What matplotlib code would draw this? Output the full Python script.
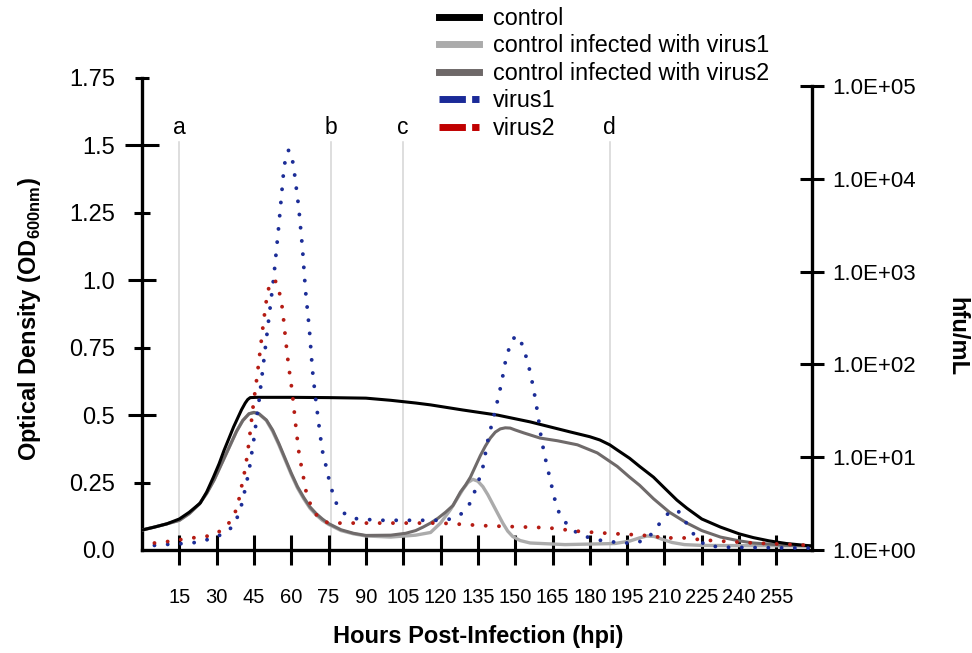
import numpy as np
import matplotlib
matplotlib.use("Agg")
import matplotlib.pyplot as plt
from matplotlib.lines import Line2D
from matplotlib.ticker import NullLocator
from matplotlib import font_manager

plt.rcParams['font.family'] = ['Liberation Sans', 'DejaVu Sans']
plt.rcParams['mathtext.fontset'] = 'custom'
plt.rcParams['mathtext.rm'] = 'Liberation Sans'
plt.rcParams['mathtext.bf'] = 'Liberation Sans:bold'

# narrow face for the crowded x tick labels, if it is installed
installed = {f.name for f in font_manager.fontManager.ttflist}
narrow = 'Liberation Sans Narrow' in installed

# Optical density series (left axis)
ctrl_h = [0, 5, 10, 15, 19, 23.4, 26, 28.7, 31, 33, 35, 36.8, 38.5, 40, 41.5, 42.5, 43.5, 46,
          60, 75, 90, 100, 110, 116, 129, 143, 156, 172, 180, 184, 188, 191, 196, 200, 205.6,
          210, 215, 219, 225, 232.5, 240, 245.7, 252, 259, 269]
ctrl_od = [0.074, 0.085, 0.097, 0.115, 0.14, 0.174, 0.215, 0.27, 0.32, 0.37, 0.415, 0.456,
           0.49, 0.52, 0.545, 0.558, 0.565, 0.566, 0.566, 0.565, 0.563, 0.555, 0.545, 0.538,
           0.519, 0.50, 0.475, 0.438, 0.42, 0.408, 0.39, 0.371, 0.34, 0.31, 0.27, 0.23, 0.185,
           0.155, 0.115, 0.085, 0.06, 0.046, 0.034, 0.024, 0.015]

v1inf_h = [0, 5, 10, 15, 19, 23, 26, 29, 32, 35, 38, 40.5, 43, 45, 47, 50, 52.5, 55, 57.5, 60,
           62.5, 65, 67.5, 70, 72.5, 75, 80, 85, 90, 100, 110, 116, 120, 124, 127, 129, 131,
           133, 135, 137, 139, 141, 143, 145, 147, 149, 152, 156, 170, 190, 196, 200, 203,
           206, 209, 213, 218, 225, 245, 269]
v1inf_od = [0.074, 0.085, 0.097, 0.11, 0.135, 0.17, 0.21, 0.26, 0.32, 0.38, 0.44, 0.48,
            0.505, 0.51, 0.505, 0.48, 0.44, 0.39, 0.335, 0.28, 0.23, 0.19, 0.155, 0.13, 0.11,
            0.095, 0.072, 0.06, 0.052, 0.048, 0.055, 0.065, 0.10, 0.15, 0.195, 0.225, 0.25,
            0.262, 0.255, 0.235, 0.205, 0.17, 0.135, 0.10, 0.07, 0.05, 0.035, 0.026, 0.02,
            0.024, 0.033, 0.045, 0.052, 0.05, 0.04, 0.028, 0.02, 0.017, 0.016, 0.015]

v2inf_h = [0, 5, 10, 15, 19, 23, 26, 29, 32, 35, 38, 40.5, 43, 45, 47, 50, 52.5, 55, 57.5, 60,
           62.5, 65, 67.5, 70, 72.5, 75, 80, 85, 90, 100, 106, 110, 113, 116, 119, 122, 125,
           128, 130, 132, 134, 136, 138, 140, 142, 144, 146, 148, 150, 153.5, 160, 167, 175,
           183, 187, 191, 196, 200, 205.6, 212, 219, 225, 232.5, 240, 245.7, 258, 269]
v2inf_od = [0.074, 0.085, 0.097, 0.11, 0.135, 0.17, 0.21, 0.26, 0.32, 0.38, 0.44, 0.48,
            0.505, 0.51, 0.505, 0.482, 0.445, 0.395, 0.34, 0.285, 0.235, 0.195, 0.16, 0.135,
            0.115, 0.098, 0.075, 0.062, 0.054, 0.055, 0.062, 0.072, 0.085, 0.10, 0.118, 0.14,
            0.165, 0.215, 0.24, 0.27, 0.31, 0.35, 0.385, 0.415, 0.437, 0.449, 0.453, 0.452,
            0.445, 0.434, 0.415, 0.405, 0.39, 0.36, 0.335, 0.31, 0.27, 0.24, 0.19, 0.14, 0.10,
            0.072, 0.048, 0.034, 0.026, 0.018, 0.015]

# Virus titres (right axis), log10 of hfu/mL
virus1_h = [5, 10, 20, 25, 33.5, 37, 39.5, 41, 43, 45, 47, 49, 51, 53, 55, 56, 57, 58, 59, 60,
            61, 63, 64.5, 65.7, 67.3, 68.5, 69.7, 71, 72.4, 74, 75.5, 77.7, 81, 85, 95, 105,
            115, 121, 125, 129, 132, 135, 137, 139, 141, 143, 144.5, 146, 147.5, 149, 150.5,
            152, 154, 156, 157.5, 159, 160.5, 162, 165, 166.5, 168, 171, 175, 180, 185, 190,
            195, 200, 203, 206, 209.5, 212.5, 215, 217, 219, 222, 226, 232, 250, 268]
virus1_log = [0.05, 0.06, 0.075, 0.1, 0.18, 0.27, 0.43, 0.6, 0.85, 1.2, 1.6, 2.05, 2.5, 2.95,
              3.5, 3.8, 4.1, 4.27, 4.31, 4.27, 4.12, 3.69, 3.25, 2.8, 2.37, 1.94, 1.65, 1.37,
              1.08, 0.9, 0.72, 0.52, 0.40, 0.34, 0.32, 0.32, 0.32, 0.32, 0.34, 0.40, 0.51,
              0.72, 0.89, 1.18, 1.4, 1.62, 1.8, 2.02, 2.17, 2.27, 2.31, 2.27, 2.12, 1.92, 1.72,
              1.48, 1.2, 1.0, 0.65, 0.48, 0.38, 0.27, 0.18, 0.13, 0.1, 0.085, 0.075, 0.09,
              0.12, 0.21, 0.34, 0.42, 0.43, 0.38, 0.28, 0.16, 0.06, 0.03, 0.025, 0.02]

virus2_h = [5, 10, 20, 24, 28.7, 33.5, 36.3, 38.3, 40.3, 41.6, 43, 44.8, 46.2, 47.5, 48.8, 50,
            51, 52, 53, 54.3, 55.6, 56.5, 57.6, 58.8, 60.3, 62, 63.3, 64.4, 65.3, 66.4, 68.5,
            71, 75, 90, 120, 139, 163, 176, 187, 201, 211, 219, 224.5, 230, 246, 269]
virus2_log = [0.075, 0.09, 0.13, 0.14, 0.16, 0.24, 0.34, 0.46, 0.72, 0.89, 1.16, 1.58, 1.86,
              2.15, 2.45, 2.69, 2.83, 2.9, 2.91, 2.88, 2.73, 2.59, 2.30, 2.01, 1.72, 1.29, 1.0,
              0.86, 0.72, 0.57, 0.45, 0.34, 0.29, 0.29, 0.29, 0.26, 0.24, 0.2, 0.18, 0.16,
              0.13, 0.13, 0.11, 0.10, 0.075, 0.05]

event_hours = [15, 76, 105, 188]
event_labels = ['a', 'b', 'c', 'd']

x_ticks = list(range(15, 256, 15))
od_ticks = [0.0, 0.25, 0.5, 0.75, 1.0, 1.25, 1.5, 1.75]
od_labels = ['0.0', '0.25', '0.5', '0.75', '1.0', '1.25', '1.5', '1.75']
titre_ticks = [1, 10, 100, 1000, 10000, 100000]
titre_labels = ['1.0E+00', '1.0E+01', '1.0E+02', '1.0E+03', '1.0E+04', '1.0E+05']

c_ctrl = '#000000'
c_v1inf = '#ababab'
c_v2inf = '#6f6a6a'
c_v1 = '#1c2d97'
c_v2 = '#b51c14'

fig = plt.figure(figsize=(9.72, 6.53), dpi=100)
ax = fig.add_axes([142 / 972, 1 - 550 / 653, 670 / 972, 472 / 653])
ax2 = ax.twinx()

# event markers
for h, lab in zip(event_hours, event_labels):
    ax.plot([h, h], [0, 1.513], color='#d4d4d4', lw=1.1, zorder=1)
    ax.text(h, 1.565, lab, ha='center', va='center', fontsize=16.5)

ax.plot(ctrl_h, ctrl_od, color=c_ctrl, lw=2.2, zorder=4)
ax.plot(v1inf_h, v1inf_od, color=c_v1inf, lw=2.4, zorder=3)
ax.plot(v2inf_h, v2inf_od, color=c_v2inf, lw=2.2, zorder=3)

dots = (0, (0.01, 3.4))
ax2.plot(virus1_h, 10 ** np.array(virus1_log), color=c_v1, lw=2.8, ls=dots,
         dash_capstyle='round')
ax2.plot(virus2_h, 10 ** np.array(virus2_log), color=c_v2, lw=2.8, ls=dots,
         dash_capstyle='round')

ax.set_xlim(0, 269.3)
ax.set_ylim(0, 1.75)
ax2.set_yscale('log')
ax2.set_ylim(1, 10 ** (5 * 472 / 464))

for s in ['top', 'right']:
    ax.spines[s].set_visible(False)
for s in ['top', 'left', 'bottom']:
    ax2.spines[s].set_visible(False)
for s in ['left', 'bottom']:
    ax.spines[s].set_linewidth(2.4)
ax2.spines['right'].set_linewidth(2.4)
ax2.spines['right'].set_bounds(1, 1e5)

ax.set_xticks(x_ticks)
if narrow:
    ax.set_xticklabels([str(t) for t in x_ticks], family='Liberation Sans Narrow', fontsize=16.5)
    xpad = 15.5
else:
    ax.set_xticklabels([str(t) for t in x_ticks], fontsize=14.5)
    xpad = 16.5
ax.tick_params(axis='x', direction='inout', length=21.6, width=2.2, pad=xpad)

ax.set_yticks(od_ticks)
ax.set_yticklabels(od_labels)
ax.tick_params(axis='y', direction='inout', length=12, width=2.2, pad=13.5, labelsize=17)
tick_len = {0.0: 0, 0.5: 19.5, 1.0: 19.5, 1.5: 25, 1.75: 9.5}
for t, val in zip(ax.yaxis.get_major_ticks(), od_ticks):
    if val in tick_len:
        t.tick1line.set_markersize(tick_len[val])

ax2.set_yticks(titre_ticks)
ax2.set_yticklabels(titre_labels)
ax2.yaxis.set_minor_locator(NullLocator())
ax2.tick_params(axis='y', direction='inout', length=17, width=2.2, pad=6, labelsize=16)

fig.text(30 / 972, 1 - 319 / 653, r'Optical Density (OD$_{\mathbf{600nm}}$)', rotation=90,
         ha='center', va='center', fontsize=17, fontweight='bold')
fig.text(957 / 972, 1 - 337 / 653, 'hfu/mL', rotation=270,
         ha='center', va='center', fontsize=17, fontweight='bold')
fig.text(478 / 972, 1 - 637 / 653, 'Hours Post-Infection (hpi)',
         ha='center', va='center', fontsize=17, fontweight='bold')

handles = [
    Line2D([], [], color=c_ctrl, lw=5),
    Line2D([], [], color=c_v1inf, lw=5),
    Line2D([], [], color='#6e6868', lw=5),
    Line2D([], [], color='#1a2a98', lw=5, ls=(0, (3.8, 0.9))),
    Line2D([], [], color='#c00000', lw=5, ls=(0, (3.8, 0.9))),
]
labels = ['control', 'control infected with virus1', 'control infected with virus2',
          'virus1', 'virus2']
fig.legend(handles, labels, loc='upper left', bbox_to_anchor=(439 / 972, 1 - 7 / 653),
           frameon=False, fontsize=16.8, handlelength=1.7, handletextpad=0.6,
           labelspacing=0.19, borderpad=0, borderaxespad=0)

fig.savefig('out.png', dpi=100)
